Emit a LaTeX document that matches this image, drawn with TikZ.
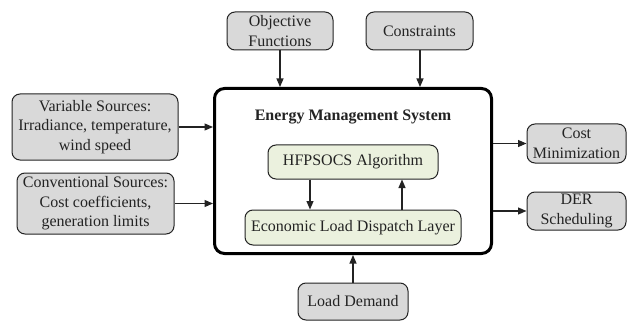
\documentclass[tikz,border=0pt]{standalone}
\usepackage{fontspec}
\newfontfamily\lserif{Liberation Serif}
\usetikzlibrary{arrows.meta}
\definecolor{boxgray}{RGB}{217,217,217}
\definecolor{boxgreen}{RGB}{235,241,222}
\definecolor{linecol}{RGB}{35,35,35}
\begin{document}
\begin{tikzpicture}[x=1pt,y=-1pt,
  every node/.style={font=\lserif\fontsize{16}{19.5}\selectfont, text=linecol, inner sep=0pt, align=center},
  graybox/.style={draw=linecol, line width=1pt, fill=boxgray, rounded corners=8pt},
  greenbox/.style={draw=linecol, line width=1pt, fill=boxgreen, rounded corners=8pt},
  emsbox/.style={draw=black, line width=3pt, fill=white, rounded corners=10pt},
  arr/.style={draw=linecol, line width=1.2pt, -{Triangle[length=8.5pt,width=7pt]}}]
\useasboundingbox (0,0) rectangle (628,323);
% outer boxes
\node[graybox, minimum width=106pt, minimum height=38pt] (obj) at (280,31) {Objective\\Functions};
\node[graybox, minimum width=107pt, minimum height=38pt] (con) at (419.5,31) {Constraints};
\node[graybox, minimum width=166pt, minimum height=66pt] (var) at (95,127) {Variable Sources:\\Irradiance, temperature,\\wind speed};
\node[graybox, minimum width=157pt, minimum height=61pt] (conv) at (95.5,203.5) {Conventional Sources:\\Cost coefficients,\\generation limits};
\node[emsbox, minimum width=277pt, minimum height=165pt] (ems) at (353,171) {};
\node[font=\lserif\fontsize{16}{19.5}\selectfont\bfseries] (title) at (353,117) {Energy Management System};
\node[greenbox, minimum width=170pt, minimum height=34pt] (hf) at (353,162) {HFPSOCS Algorithm};
\node[greenbox, minimum width=216pt, minimum height=35pt] (eld) at (353,227.5) {Economic Load Dispatch Layer};
\node[graybox, minimum width=99pt, minimum height=39pt] (cost) at (576.5,143.5) {Cost\\Minimization};
\node[graybox, minimum width=99pt, minimum height=38pt] (der) at (576.5,211) {DER\\Scheduling};
\node[graybox, minimum width=110pt, minimum height=37pt] (load) at (353,301.5) {Load Demand};
% connectors
\draw[arr] (obj.south) -- (obj.south |- ems.north);
\draw[arr] ([xshift=0.5pt]con.south) -- ([xshift=0.5pt]con.south |- ems.north);
\draw[arr] (var.east) -- (var.east -| ems.west);
\draw[arr] (conv.east) -- (conv.east -| ems.west);
\draw[arr] (cost.west -| ems.east) -- (cost.west);
\draw[arr] (der.west -| ems.east) -- (der.west);
\draw[arr] (load.north) -- (load.north |- ems.south);
\draw[arr] ([xshift=-43pt]hf.south) -- ([xshift=-43pt]hf.south |- eld.north);
\draw[arr] ([xshift=49pt]hf.south |- eld.north) -- ([xshift=49pt]hf.south);
\end{tikzpicture}
\end{document}
